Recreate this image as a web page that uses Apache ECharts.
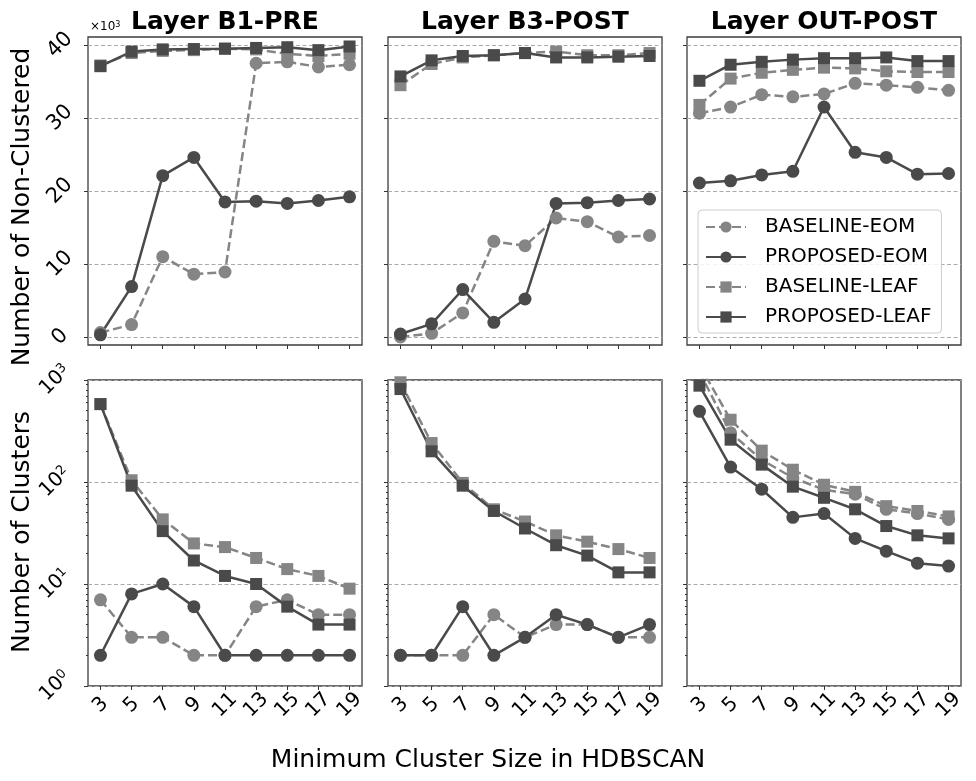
<!DOCTYPE html>
<html>
<head>
<meta charset="utf-8">
<script src="https://cdn.jsdelivr.net/npm/echarts@6/dist/echarts.min.js"></script>
<style>
html,body{margin:0;padding:0;background:#fff;}
#chart{width:976px;height:781px;}
</style>
</head>
<body>
<div id="chart"></div>
<script>
// ---------- data ----------
const X_VALUES = [3, 5, 7, 9, 11, 13, 15, 17, 19];
const PANEL_TITLES = ['Layer B1-PRE', 'Layer B3-POST', 'Layer OUT-POST'];
const SERIES_NAMES = ['BASELINE-EOM', 'PROPOSED-EOM', 'BASELINE-LEAF', 'PROPOSED-LEAF'];
const TOP_TICKS = [0, 10, 20, 30, 40];
const LOG_MINOR_TICKS = [2,3,4,5,6,7,8,9,20,30,40,50,60,70,80,90,200,300,400,500,600,700,800,900];

// Number of non-clustered points (x10^3)
const B1_NC_BASE_EOM  = [0.6, 1.7, 11.0, 8.6, 8.9, 37.5, 37.7, 37.0, 37.3];
const B1_NC_PROP_EOM  = [0.3, 6.9, 22.1, 24.6, 18.5, 18.6, 18.3, 18.7, 19.2];
const B1_NC_BASE_LEAF = [37.2, 38.9, 39.2, 39.3, 39.5, 39.4, 38.8, 38.5, 38.8];
const B1_NC_PROP_LEAF = [37.1, 39.1, 39.4, 39.45, 39.5, 39.6, 39.7, 39.3, 39.8];

const B3_NC_BASE_EOM  = [0.0, 0.5, 3.3, 13.1, 12.5, 16.3, 15.8, 13.7, 13.9];
const B3_NC_PROP_EOM  = [0.4, 1.8, 6.5, 2.0, 5.2, 18.3, 18.4, 18.7, 18.9];
const B3_NC_BASE_LEAF = [34.5, 37.4, 38.3, 38.6, 38.9, 39.1, 38.6, 38.6, 38.9];
const B3_NC_PROP_LEAF = [35.7, 37.9, 38.5, 38.6, 38.9, 38.3, 38.3, 38.4, 38.5];

const OUT_NC_BASE_EOM  = [30.65, 31.5, 33.2, 32.9, 33.3, 34.75, 34.5, 34.2, 33.8];
const OUT_NC_PROP_EOM  = [21.1, 21.4, 22.2, 22.7, 31.5, 25.3, 24.6, 22.3, 22.4];
const OUT_NC_BASE_LEAF = [31.8, 35.4, 36.2, 36.6, 36.9, 36.8, 36.4, 36.3, 36.3];
const OUT_NC_PROP_LEAF = [35.1, 37.3, 37.7, 38.0, 38.2, 38.2, 38.3, 37.8, 37.8];

// Number of clusters
const B1_CL_BASE_EOM  = [7, 3, 3, 2, 2, 6, 7, 5, 5];
const B1_CL_PROP_EOM  = [2, 8, 10, 6, 2, 2, 2, 2, 2];
const B1_CL_BASE_LEAF = [582, 104, 43, 25, 23, 18, 14, 12, 9];
const B1_CL_PROP_LEAF = [580, 92, 33, 17, 12, 10, 6, 4, 4];

const B3_CL_BASE_EOM  = [2, 2, 2, 5, 3, 4, 4, 3, 3];
const B3_CL_PROP_EOM  = [2, 2, 6, 2, 3, 5, 4, 3, 4];
const B3_CL_BASE_LEAF = [950, 241, 98, 54, 41, 30, 26, 22, 18];
const B3_CL_PROP_LEAF = [815, 200, 92, 52, 35, 24, 19, 13, 13];

const OUT_CL_BASE_EOM  = [1200, 304, 165, 110, 84, 76, 54, 49, 43];
const OUT_CL_PROP_EOM  = [493, 140, 85, 45, 49, 28, 21, 16, 15];
const OUT_CL_BASE_LEAF = [1400, 408, 203, 132, 94, 80, 58, 52, 46];
const OUT_CL_PROP_LEAF = [880, 260, 148, 90, 70, 54, 37, 30, 28];

const TOP_DATA = [
  [B1_NC_BASE_EOM, B1_NC_PROP_EOM, B1_NC_BASE_LEAF, B1_NC_PROP_LEAF],
  [B3_NC_BASE_EOM, B3_NC_PROP_EOM, B3_NC_BASE_LEAF, B3_NC_PROP_LEAF],
  [OUT_NC_BASE_EOM, OUT_NC_PROP_EOM, OUT_NC_BASE_LEAF, OUT_NC_PROP_LEAF]
];
const BOTTOM_DATA = [
  [B1_CL_BASE_EOM, B1_CL_PROP_EOM, B1_CL_BASE_LEAF, B1_CL_PROP_LEAF],
  [B3_CL_BASE_EOM, B3_CL_PROP_EOM, B3_CL_BASE_LEAF, B3_CL_PROP_LEAF],
  [OUT_CL_BASE_EOM, OUT_CL_PROP_EOM, OUT_CL_BASE_LEAF, OUT_CL_PROP_LEAF]
];

// ---------- style ----------
const FONT = 'DejaVu Sans';
const LIGHT = '#858585';
const DARK = '#4a4a4a';
const SERIES_STYLE = [
  {color: LIGHT, dash: true,  symbol: 'circle', size: 13},
  {color: DARK,  dash: false, symbol: 'circle', size: 13},
  {color: LIGHT, dash: true,  symbol: 'rect',   size: 12},
  {color: DARK,  dash: false, symbol: 'rect',   size: 12}
];
const PANEL_LEFT = [88, 388, 687];
const PANEL_W = 274;
const TOP_Y = 37, TOP_H = 308;
const BOT_Y = 380, BOT_H = 306;
const GRID_LINE = {show: true, lineStyle: {color: '#aaaaaa', width: 1, type: [4, 2.5]}};
const TICK_LINE = {color: '#333333', width: 1};

const grids = [], xAxes = [], yAxes = [], series = [];

for (let p = 0; p < 3; p++) {
  grids.push({left: PANEL_LEFT[p], top: TOP_Y, width: PANEL_W, height: TOP_H,
    show: true, borderColor: '#3d3d3d', borderWidth: 1.3, backgroundColor: 'transparent'});
}
for (let p = 0; p < 3; p++) {
  grids.push({left: PANEL_LEFT[p], top: BOT_Y, width: PANEL_W, height: BOT_H,
    show: true, borderColor: '#3d3d3d', borderWidth: 1.3, backgroundColor: 'transparent'});
}

for (let g = 0; g < 6; g++) {
  const bottomRow = g >= 3;
  xAxes.push({
    type: 'value', gridIndex: g, min: 2.2, max: 19.8,
    axisLine: {show: false, onZero: false},
    splitLine: {show: false},
    axisTick: {show: true, customValues: X_VALUES, length: 4, lineStyle: TICK_LINE},
    axisLabel: {
      show: bottomRow, customValues: X_VALUES, rotate: 45,
      align: 'center', verticalAlign: 'middle', margin: 19,
      fontFamily: FONT, fontSize: 20, color: '#000'
    }
  });
}

// top y axes (0..2)
for (let p = 0; p < 3; p++) {
  yAxes.push({
    type: 'value', gridIndex: p, min: -1.1, max: 41.1,
    axisLine: {show: false},
    splitLine: GRID_LINE,
    axisTick: {show: true, customValues: TOP_TICKS, length: 4, lineStyle: TICK_LINE},
    axisLabel: {
      show: p === 0, customValues: TOP_TICKS, rotate: 45,
      align: 'center', verticalAlign: 'middle', margin: 28,
      fontFamily: FONT, fontSize: 21, color: '#000'
    }
  });
}
// bottom log y axes (3..5)
for (let p = 0; p < 3; p++) {
  yAxes.push({
    type: 'log', logBase: 10, gridIndex: 3 + p, min: 1, max: 1000,
    axisLine: {show: false},
    splitLine: GRID_LINE,
    axisTick: {show: true, length: 4, lineStyle: TICK_LINE},
    axisLabel: {
      show: p === 0, rotate: 45,
      align: 'center', verticalAlign: 'middle', margin: 33,
      fontFamily: FONT, fontSize: 20, color: '#000',
      formatter: v => '10{sup|' + Math.round(Math.log10(v)) + '}',
      rich: {sup: {fontSize: 13, verticalAlign: 'top', fontFamily: FONT, color: '#000'}}
    }
  });
}
// minor ticks for log axes (6..8)
for (let p = 0; p < 3; p++) {
  yAxes.push({
    type: 'log', logBase: 10, gridIndex: 3 + p, min: 1, max: 1000, position: 'left', offset: 0,
    axisLine: {show: false},
    splitLine: {show: false},
    axisTick: {show: true, customValues: LOG_MINOR_TICKS, length: 2, lineStyle: TICK_LINE},
    axisLabel: {show: false}
  });
}

function addSeries(dataSet, xIdx, yIdx) {
  for (let s = 0; s < 4; s++) {
    const st = SERIES_STYLE[s];
    series.push({
      type: 'line', name: SERIES_NAMES[s],
      xAxisIndex: xIdx, yAxisIndex: yIdx,
      data: X_VALUES.map((x, i) => [x, dataSet[s][i]]),
      symbol: st.symbol, symbolSize: st.size,
      lineStyle: {color: st.color, width: 2.5, type: st.dash ? [9, 4] : 'solid'},
      itemStyle: {color: st.color},
      clip: true, silent: true, animation: false,
      emphasis: {disabled: true}
    });
  }
}
for (let p = 0; p < 3; p++) addSeries(TOP_DATA[p], p, p);
for (let p = 0; p < 3; p++) addSeries(BOTTOM_DATA[p], 3 + p, 3 + p);

const graphics = [];
for (let p = 0; p < 3; p++) {
  graphics.push({
    type: 'text', x: PANEL_LEFT[p] + PANEL_W / 2, y: 22,
    style: {text: PANEL_TITLES[p], font: 'bold 25px "DejaVu Sans"', fill: '#000',
      textAlign: 'center', textVerticalAlign: 'middle'}
  });
}
graphics.push({
  type: 'text', x: 90, y: 27,
  style: {text: '×10{s|3}', fontFamily: FONT, fontSize: 12, fill: '#000',
    textAlign: 'left', textVerticalAlign: 'middle',
    rich: {s: {fontSize: 8, verticalAlign: 'top', fontFamily: FONT, fill: '#000'}}}
});
graphics.push({
  type: 'text', x: 22, y: 207, rotation: Math.PI / 2,
  style: {text: 'Number of Non-Clustered', font: '25px "DejaVu Sans"', fill: '#000',
    textAlign: 'center', textVerticalAlign: 'middle'}
});
graphics.push({
  type: 'text', x: 22, y: 532, rotation: Math.PI / 2,
  style: {text: 'Number of Clusters', font: '25px "DejaVu Sans"', fill: '#000',
    textAlign: 'center', textVerticalAlign: 'middle'}
});
graphics.push({
  type: 'text', x: 488, y: 760,
  style: {text: 'Minimum Cluster Size in HDBSCAN', font: '25px "DejaVu Sans"', fill: '#000',
    textAlign: 'center', textVerticalAlign: 'middle'}
});

const option = {
  animation: false,
  backgroundColor: '#ffffff',
  grid: grids,
  xAxis: xAxes,
  yAxis: yAxes,
  series: series,
  legend: {
    data: SERIES_NAMES, orient: 'vertical', left: 698, top: 210,
    itemWidth: 40, itemHeight: 14, itemGap: 10,
    selectedMode: false,
    textStyle: {fontFamily: FONT, fontSize: 20, color: '#000', padding: [0, 0, 0, 14]},
    backgroundColor: 'rgba(255,255,255,0.85)',
    borderColor: '#cccccc', borderWidth: 1, borderRadius: 4,
    padding: [7, 10, 6, 7]
  },
  graphic: graphics
};

const chart = echarts.init(document.getElementById('chart'), null, {renderer: 'canvas'});
chart.setOption(option);
</script>
</body>
</html>
